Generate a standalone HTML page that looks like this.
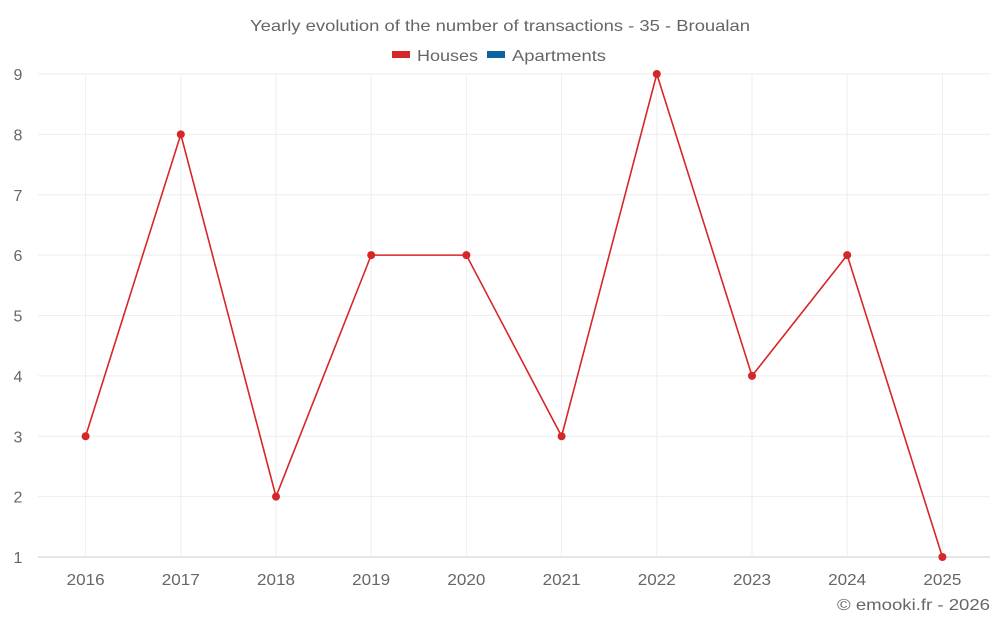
<!DOCTYPE html>
<html><head><meta charset="utf-8"><style>
body{margin:0;background:#fff;font-family:"Liberation Sans",sans-serif}
svg text{font-family:"Liberation Sans",sans-serif;fill:#666}
</style></head><body>
<svg id="c" width="1000" height="625">
<text x="250" y="31" font-size="16" textLength="500" lengthAdjust="spacingAndGlyphs">Yearly evolution of the number of transactions - 35 - Broualan</text>
<g>
<g><rect x="392" y="51" width="18" height="7" fill="#d62728"/><text x="417" y="61" font-size="16" textLength="61" lengthAdjust="spacingAndGlyphs">Houses</text></g>
<g><rect x="487" y="51" width="18" height="7" fill="#0b63a0"/><text x="512" y="61" font-size="16" textLength="94" lengthAdjust="spacingAndGlyphs">Apartments</text></g>
</g>
<g id="grid"></g><g id="axes"></g><g id="series"></g>
<text x="837" y="610" font-size="16" textLength="153" lengthAdjust="spacingAndGlyphs">© emooki.fr - 2026</text>
</svg>
<script>
const categories=["2016","2017","2018","2019","2020","2021","2022","2023","2024","2025"];
const houses=[3,8,2,6,6,3,9,4,6,1];
const yTicks=[1,2,3,4,5,6,7,8,9];
const L=38,R=990,T=74,B=557,yMin=1,yMax=9;
const bw=(R-L)/categories.length;
const x=i=>L+bw*(i+0.5);
const y=v=>B-(v-yMin)/(yMax-yMin)*(B-T);
const ns="http://www.w3.org/2000/svg";
function mk(p,t,a){const e=document.createElementNS(ns,t);for(const k in a)e.setAttribute(k,a[k]);p.appendChild(e);return e;}
const g=document.getElementById('grid'),ax=document.getElementById('axes'),s=document.getElementById('series');
yTicks.forEach(v=>{
const l=mk(g,'line',{x1:L,x2:R,y1:y(v),y2:y(v),stroke:v===yMin?'#ccc':'#eee'});


const t=mk(ax,'text',{x:18,y:y(v)+6,'font-size':16,'text-anchor':'middle'});t.textContent=v;


});
categories.forEach((c,i)=>{
const l=mk(g,'line',{x1:x(i),x2:x(i),y1:T,y2:B,stroke:'#eee'});


const t=mk(ax,'text',{x:x(i)-19,y:585,'font-size':16,textLength:38,lengthAdjust:'spacingAndGlyphs'});t.textContent=c;


});
const p=mk(s,'polyline',{points:houses.map((v,i)=>x(i)+','+y(v)).join(' '),fill:'none',stroke:'#d62728','stroke-width':1.6});


houses.forEach((v,i)=>{
const c=mk(s,'circle',{cx:x(i),cy:y(v),r:4,fill:'#d62728'});


});
</script>
</body></html>
